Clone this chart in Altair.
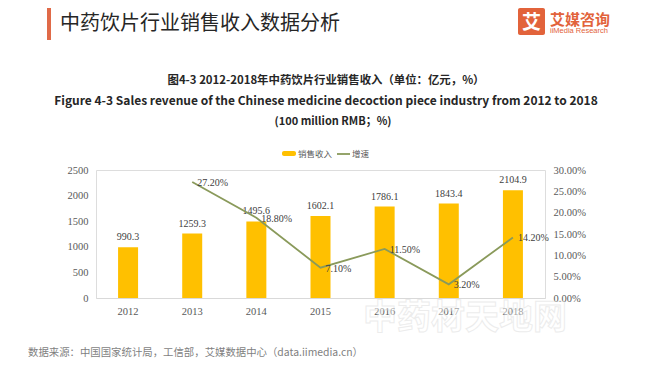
import altair as alt
import pandas as pd

years = ["2012", "2013", "2014", "2015", "2016", "2017", "2018"]
revenue = [990.3, 1259.3, 1495.6, 1602.1, 1786.1, 1843.4, 2104.9]
growth_years = ["2013", "2014", "2015", "2016", "2017", "2018"]
growth = [27.2, 18.8, 7.1, 11.5, 3.2, 14.2]
left_ticks = [0, 500, 1000, 1500, 2000, 2500]
right_ticks = [0, 5, 10, 15, 20, 25, 30]

header = "中药饮片行业销售收入数据分析"
title_cn = "图4-3 2012-2018年中药饮片行业销售收入（单位：亿元，%）"
title_en = "Figure 4-3 Sales revenue of the Chinese medicine decoction piece industry from 2012 to 2018"
title_unit = "(100 million RMB；%)"
legend_names = ["销售收入", "增速"]
source = "数据来源：中国国家统计局，工信部，艾媒数据中心（data.iimedia.cn）"
logo_cn = "艾媒咨询"
logo_en = "iiMedia Research"
watermark = "中药材天地网"

CJK = "Noto Sans CJK SC"
NUM = "Liberation Serif"
BAR = "#FFC000"
LINE = "#8A9A5B"
ORANGE = "#E2633B"

W, H = 449, 128

rev_df = pd.DataFrame({"year": years, "revenue": revenue})
gr_df = pd.DataFrame({"year": growth_years, "growth": growth})

xenc = alt.X("year:N", sort=years, title=None,
             scale=alt.Scale(domain=years, paddingInner=0, paddingOuter=0),
             axis=alt.Axis(labelAngle=0, ticks=False, domainColor="#D9D9D9",
                           labelColor="#595959", labelFont=NUM, labelFontSize=10.5,
                           labelPadding=8, grid=False))
xplain = alt.X("year:N", sort=years)

bars = alt.Chart(rev_df).mark_bar(size=20, color=BAR).encode(
    x=xenc,
    y=alt.Y("revenue:Q", scale=alt.Scale(domain=[0, 2500]), title=None,
            axis=alt.Axis(orient="left", values=left_ticks, format="d",
                          domain=False, ticks=False, grid=False, labelColor="#595959",
                          labelFont=NUM, labelFontSize=10.5, labelPadding=8,
                          labelOverlap=False, labelFlush=False)),
)
bar_text = alt.Chart(rev_df).mark_text(baseline="bottom", dy=-5, font=NUM,
                                       fontSize=10, color="#404040").encode(
    x=xplain,
    y=alt.Y("revenue:Q", scale=alt.Scale(domain=[0, 2500]), axis=None),
    text=alt.Text("revenue:Q", format=".1f"),
)

line = alt.Chart(gr_df).mark_line(color=LINE, strokeWidth=1.8).encode(
    x=xplain,
    y=alt.Y("growth:Q", scale=alt.Scale(domain=[0, 30]), title=None,
            axis=alt.Axis(orient="right", values=right_ticks, domain=False, ticks=False,
                          grid=False, labelColor="#595959", labelFont=NUM,
                          labelFontSize=10.5, labelPadding=8, labelOverlap=False,
                          labelFlush=False,
                          labelExpr="format(datum.value, '.2f') + '%'")),
)
line_text = alt.Chart(gr_df).transform_calculate(
    lab="format(datum.growth, '.2f') + '%'"
).mark_text(align="left", baseline="middle", dx=5, dy=1, font=NUM,
            fontSize=10, color="#404040").encode(
    x=xplain,
    y=alt.Y("growth:Q", scale=alt.Scale(domain=[0, 30]), axis=None),
    text="lab:N",
)

main = alt.layer(bars, bar_text, line, line_text).resolve_scale(y="independent")


def txt(s, x, y, **kw):
    return alt.Chart(pd.DataFrame({"t": [s]})).mark_text(**kw).encode(
        x=alt.value(x), y=alt.value(y), text="t:N")


def box(x, x2, y, y2, **kw):
    return alt.Chart(pd.DataFrame({"a": [0]})).mark_rect(**kw).encode(
        x=alt.value(x), x2=alt.value(x2), y=alt.value(y), y2=alt.value(y2))


wm = txt(watermark, 369, 149, align="center", baseline="middle", font=CJK,
         fontSize=34, fontWeight="bold", color="#FFFFFF", stroke="#D6D6D6",
         strokeWidth=1, opacity=0.45)

# page coords -> plot coords: subtract (96, 170)
deco = [
    box(-49, -45, -163, -130, color="#E06A48"),
    txt(header, -36, -146, align="left", baseline="middle", font=CJK,
        fontSize=20, color="#262626"),
    box(422, 449, -162, -135, color=ORANGE, cornerRadius=2),
    txt("艾", 435.5, -147, align="center", baseline="middle", font=CJK,
        fontSize=19, fontWeight="bold", color="white"),
    txt(logo_cn, 454, -150, align="left", baseline="middle", font=CJK,
        fontSize=15, fontWeight="bold", color=ORANGE),
    txt(logo_en, 454, -139, align="left", baseline="middle", font="Liberation Sans",
        fontSize=7.5, color=ORANGE),
    txt(title_cn, 230, -89, align="center", baseline="middle", font=CJK,
        fontSize=11.4, fontWeight="bold", color="#262626"),
    txt(title_en, 230, -69, align="center", baseline="middle", font=CJK,
        fontSize=12, fontWeight="bold", color="#262626"),
    txt(title_unit, 237, -48, align="center", baseline="middle", font=CJK,
        fontSize=11, fontWeight="bold", color="#262626"),
    box(186, 200, -19, -14, color=BAR, cornerRadius=2),
    txt(legend_names[0], 202, -16, align="left", baseline="middle", font=CJK,
        fontSize=8.5, color="#595959"),
    alt.Chart(pd.DataFrame({"a": [0]})).mark_rule(color=LINE, strokeWidth=1.8).encode(
        x=alt.value(241), x2=alt.value(254), y=alt.value(-16)),
    txt(legend_names[1], 256, -16, align="left", baseline="middle", font=CJK,
        fontSize=8.5, color="#595959"),
    txt(source, -68, 183, align="left", baseline="middle", font=CJK,
        fontSize=10.4, color="#7F7F7F"),
]

chart = alt.layer(wm, main, *deco).properties(
    width=W, height=H,
    autosize=alt.AutoSizeParams(type="none"),
    padding={"left": 88, "top": 162, "right": 97, "bottom": 60},
).configure_view(stroke=None).configure(background="white")

chart.save("out.html", embed_options={"renderer": "svg", "actions": False})
